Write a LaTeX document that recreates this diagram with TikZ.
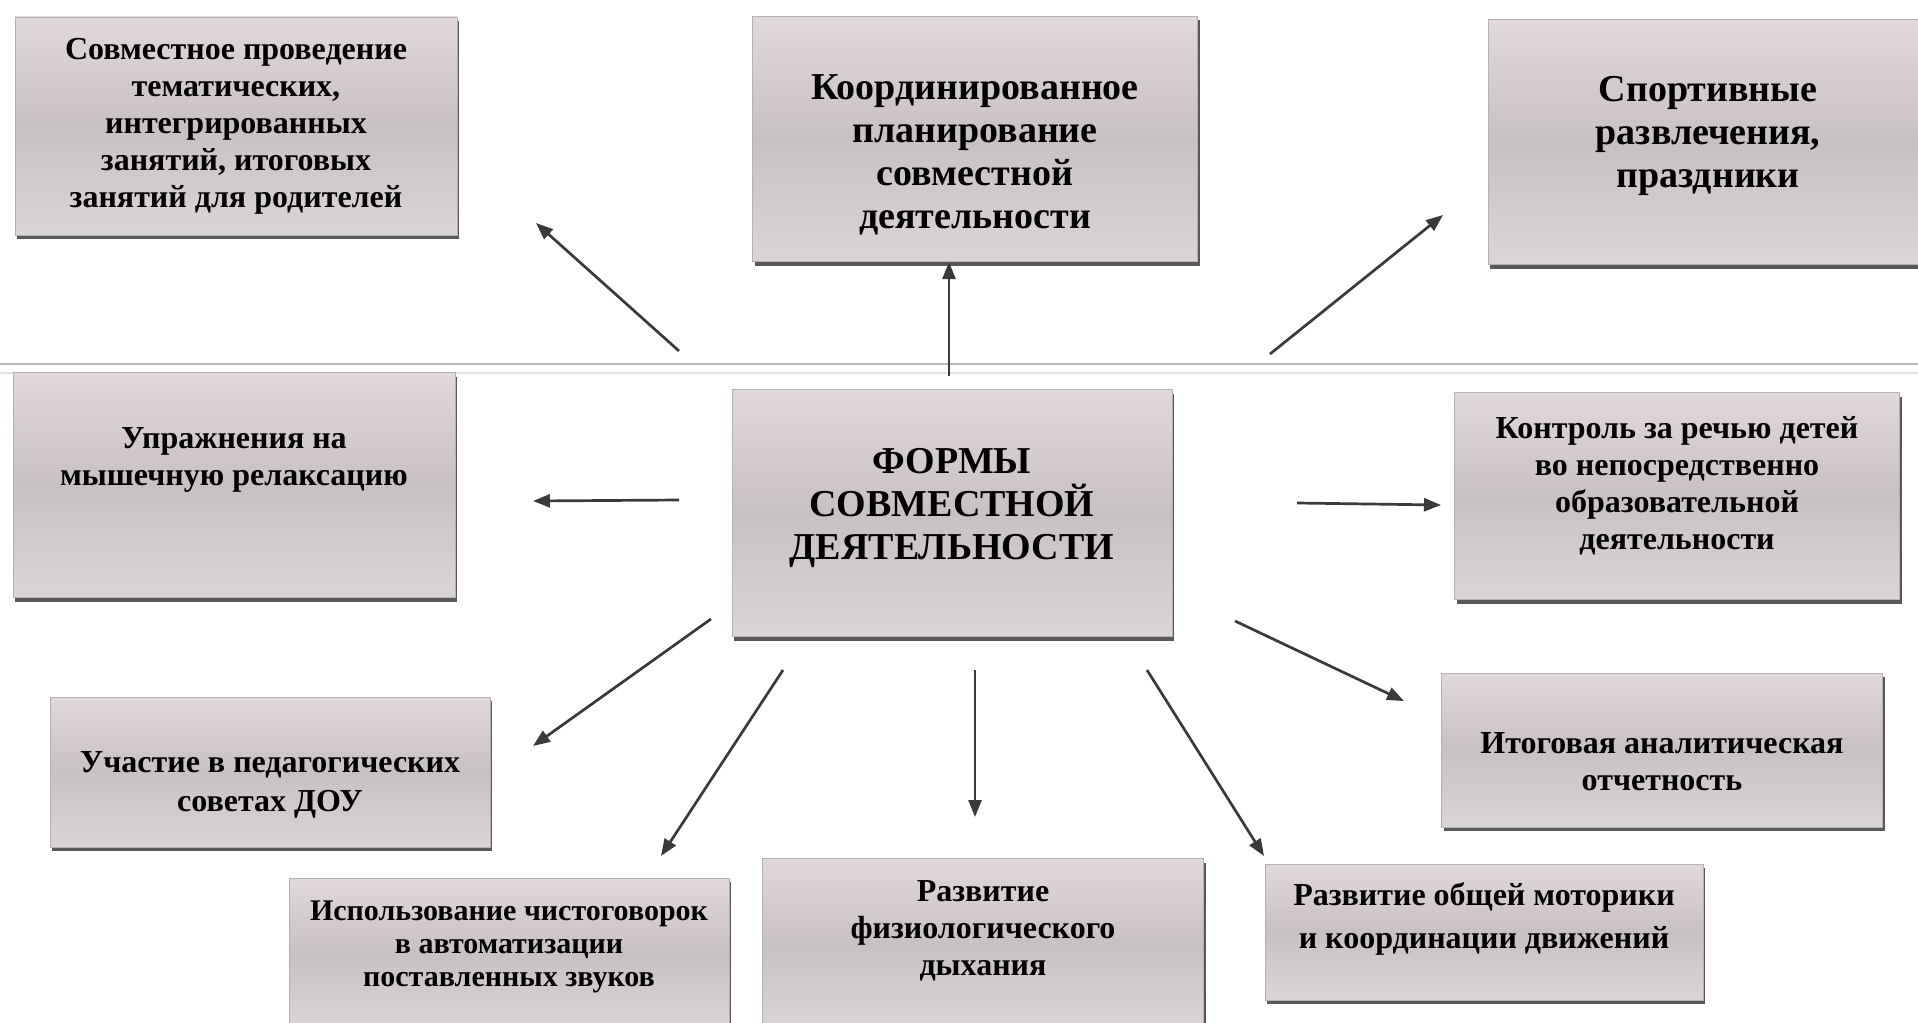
\documentclass[tikz,border=0pt]{standalone}
\usepackage{fontspec}
\setmainfont{Liberation Serif}
\usetikzlibrary{shadows, arrows.meta, calc, positioning}
\definecolor{boxtop}{RGB}{224,216,221}
\definecolor{boxmid}{RGB}{199,192,197}
\definecolor{boxbot}{RGB}{219,212,217}
\definecolor{arrowgrey}{RGB}{58,58,58}
\definecolor{seamgrey}{RGB}{192,182,188}
\tikzset{form/.style={draw=gray!60, line width=0.8pt, top color=boxtop, bottom color=boxbot, middle color=boxmid, drop shadow={shadow xshift=2pt, shadow yshift=-4pt, fill=black!65, opacity=1}, align=center, inner sep=0pt, font=\bfseries\fontsize{32}{37}\selectfont}}
\tikzset{formbig/.style={form, font=\bfseries\fontsize{38}{43}\selectfont}}
\tikzset{link/.style={draw=arrowgrey, line width=2.7pt, -{Triangle[length=17pt, width=13pt]}}}

\begin{document}
\begin{tikzpicture}[x=1pt, y=-1pt]
            \useasboundingbox (0, 0) rectangle (1918, 1022);

            % scan seam across the page
            \draw [seamgrey, line width=2.5pt] (0, 364) -- (1918, 364);
            \draw [seamgrey!40, line width=1.5pt] (0, 373) -- (1918, 373);

            \node [form, minimum width=442pt, minimum height=218pt] (joint) at (236, 126) {Совместное проведение\\тематических,\\интегрированных\\занятий, итоговых\\занятий для родителей};
            \node [formbig, minimum width=445pt, minimum height=245pt, text height=186pt] (plan) at (975, 139) {Координированное\\планирование\\совместной\\деятельности};
            \node [formbig, minimum width=440pt, minimum height=245pt, text depth=20pt] (sport) at (1708, 142) {Спортивные\\развлечения,\\праздники};

            \node [form, minimum width=442pt, minimum height=225pt, text depth=56pt] (relax) at (234, 485) {Упражнения на\\мышечную релаксацию};
            \node [formbig, minimum width=440pt, minimum height=247pt, text depth=18pt] (forms) at (952, 513) {ФОРМЫ\\СОВМЕСТНОЙ\\ДЕЯТЕЛЬНОСТИ};
            \node [form, minimum width=445pt, minimum height=207pt, text depth=27pt] (speech) at (1677, 496) {Контроль за речью детей\\во непосредственно\\образовательной\\деятельности};

            \node [form, minimum width=440pt, minimum height=150pt, text height=85pt, font=\bfseries\fontsize{32}{39}\selectfont] (council) at (270, 772) {Участие в педагогических\\советах ДОУ};
            \node [form, minimum width=441pt, minimum height=154pt, text height=81pt] (report) at (1662, 750) {Итоговая аналитическая\\отчетность};

            \node [form, minimum width=440pt, minimum height=152pt, text depth=21pt, font=\bfseries\fontsize{30}{33}\selectfont] (tongue) at (509, 954) {Использование чистоговорок\\в автоматизации\\поставленных звуков};
            \node [form, minimum width=441pt, minimum height=171pt, text depth=31pt] (breath) at (983, 944) {Развитие\\физиологического\\дыхания};
            \node [form, minimum width=438pt, minimum height=136pt, text depth=33pt, font=\bfseries\fontsize{32}{43}\selectfont] (motor) at (1484, 932) {Развитие общей моторики\\и координации движений};

            % arrow ends
            \coordinate (s1) at (679, 351);   \coordinate (e1) at (536, 223);
            \coordinate (s2) at (949, 376);   \coordinate (e2) at (949, 262);
            \coordinate (s3) at (1270, 354);  \coordinate (e3) at (1443, 215);
            \coordinate (s4) at (679, 500);   \coordinate (e4) at (533, 501);
            \coordinate (s5) at (1297, 503);  \coordinate (e5) at (1441, 505);
            \coordinate (s6) at (711, 619);   \coordinate (e6) at (533, 746);
            \coordinate (s7) at (783, 670);   \coordinate (e7) at (661, 856);
            \coordinate (s8) at (975, 670);   \coordinate (e8) at (975, 817);
            \coordinate (s9) at (1147, 670);  \coordinate (e9) at (1264, 856);
            \coordinate (s10) at (1235, 621); \coordinate (e10) at (1404, 701);

            \draw [link] (s1) -- (e1);
            \draw [link] (s2) -- (e2);
            \draw [link] (s3) -- (e3);
            \draw [link] (s4) -- (e4);
            \draw [link] (s5) -- (e5);
            \draw [link] (s6) -- (e6);
            \draw [link] (s7) -- (e7);
            \draw [link] (s8) -- (e8);
            \draw [link] (s9) -- (e9);
            \draw [link] (s10) -- (e10);
        \end{tikzpicture}
\end{document}
